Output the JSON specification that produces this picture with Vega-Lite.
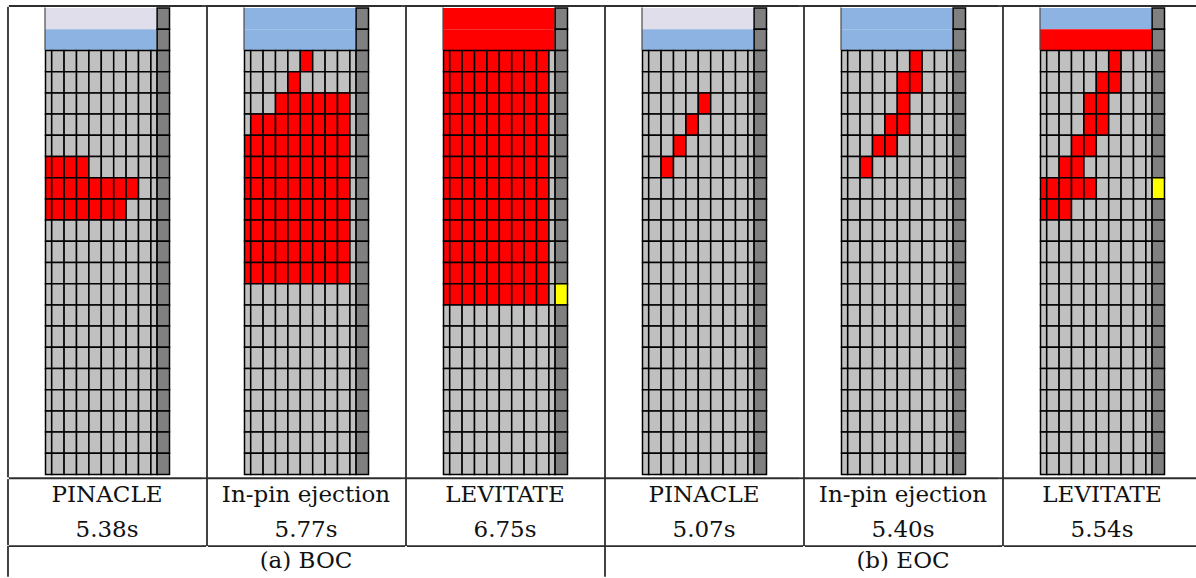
{
"$schema": "https://vega.github.io/schema/vega-lite/v6.json",
"background": "white",
"padding": {"left": 2, "top": 0, "right": 0, "bottom": 0},
"spacing": 0,
"bounds": "flush",
"config": {"view": {"stroke": null}},
"datasets": {
"bands": [
{"r":0,"p1":"L","p2":"B","p3":"F","p4":"L","p5":"B","p6":"B"},
{"r":1,"p1":"B","p2":"B","p3":"F","p4":"B","p5":"B","p6":"F"}
],
"labels": [
{"k":"method","p1":"PINACLE","p2":"In-pin ejection","p3":"LEVITATE","p4":"PINACLE","p5":"In-pin ejection","p6":"LEVITATE"},
{"k":"time","p1":"5.38s","p2":"5.77s","p3":"6.75s","p4":"5.07s","p5":"5.40s","p6":"5.54s"},
{"k":"group","p1":"","p2":"(a) BOC","p3":"","p4":"","p5":"(b) EOC","p6":""},
{"k":"stub","p1":"off","p2":"on","p3":"on","p4":"on","p5":"on","p6":"on"},
{"k":"gedge","p1":"on","p2":"off","p3":"off","p4":"on","p5":"off","p6":"off"}
],
"cells": [
{"r":0,"c":10,"p1":"W","p2":"W","p3":"W","p4":"W","p5":"W","p6":"W"},
{"r":1,"c":10,"p1":"W","p2":"W","p3":"W","p4":"W","p5":"W","p6":"W"},
{"r":2,"c":0,"p1":"E","p2":"E","p3":"F","p4":"E","p5":"E","p6":"E"},
{"r":2,"c":1,"p1":"E","p2":"E","p3":"F","p4":"E","p5":"E","p6":"E"},
{"r":2,"c":2,"p1":"E","p2":"E","p3":"F","p4":"E","p5":"E","p6":"E"},
{"r":2,"c":3,"p1":"E","p2":"E","p3":"F","p4":"E","p5":"E","p6":"E"},
{"r":2,"c":4,"p1":"E","p2":"E","p3":"F","p4":"E","p5":"E","p6":"E"},
{"r":2,"c":5,"p1":"E","p2":"F","p3":"F","p4":"E","p5":"E","p6":"E"},
{"r":2,"c":6,"p1":"E","p2":"E","p3":"F","p4":"E","p5":"F","p6":"F"},
{"r":2,"c":7,"p1":"E","p2":"E","p3":"F","p4":"E","p5":"E","p6":"E"},
{"r":2,"c":8,"p1":"E","p2":"E","p3":"F","p4":"E","p5":"E","p6":"E"},
{"r":2,"c":9,"p1":"E","p2":"E","p3":"E","p4":"E","p5":"E","p6":"E"},
{"r":2,"c":10,"p1":"W","p2":"W","p3":"W","p4":"W","p5":"W","p6":"W"},
{"r":3,"c":0,"p1":"E","p2":"E","p3":"F","p4":"E","p5":"E","p6":"E"},
{"r":3,"c":1,"p1":"E","p2":"E","p3":"F","p4":"E","p5":"E","p6":"E"},
{"r":3,"c":2,"p1":"E","p2":"E","p3":"F","p4":"E","p5":"E","p6":"E"},
{"r":3,"c":3,"p1":"E","p2":"E","p3":"F","p4":"E","p5":"E","p6":"E"},
{"r":3,"c":4,"p1":"E","p2":"F","p3":"F","p4":"E","p5":"E","p6":"E"},
{"r":3,"c":5,"p1":"E","p2":"E","p3":"F","p4":"E","p5":"F","p6":"F"},
{"r":3,"c":6,"p1":"E","p2":"E","p3":"F","p4":"E","p5":"F","p6":"F"},
{"r":3,"c":7,"p1":"E","p2":"E","p3":"F","p4":"E","p5":"E","p6":"E"},
{"r":3,"c":8,"p1":"E","p2":"E","p3":"F","p4":"E","p5":"E","p6":"E"},
{"r":3,"c":9,"p1":"E","p2":"E","p3":"E","p4":"E","p5":"E","p6":"E"},
{"r":3,"c":10,"p1":"W","p2":"W","p3":"W","p4":"W","p5":"W","p6":"W"},
{"r":4,"c":0,"p1":"E","p2":"E","p3":"F","p4":"E","p5":"E","p6":"E"},
{"r":4,"c":1,"p1":"E","p2":"E","p3":"F","p4":"E","p5":"E","p6":"E"},
{"r":4,"c":2,"p1":"E","p2":"E","p3":"F","p4":"E","p5":"E","p6":"E"},
{"r":4,"c":3,"p1":"E","p2":"F","p3":"F","p4":"E","p5":"E","p6":"E"},
{"r":4,"c":4,"p1":"E","p2":"F","p3":"F","p4":"E","p5":"E","p6":"F"},
{"r":4,"c":5,"p1":"E","p2":"F","p3":"F","p4":"F","p5":"F","p6":"F"},
{"r":4,"c":6,"p1":"E","p2":"F","p3":"F","p4":"E","p5":"E","p6":"E"},
{"r":4,"c":7,"p1":"E","p2":"F","p3":"F","p4":"E","p5":"E","p6":"E"},
{"r":4,"c":8,"p1":"E","p2":"F","p3":"F","p4":"E","p5":"E","p6":"E"},
{"r":4,"c":9,"p1":"E","p2":"E","p3":"E","p4":"E","p5":"E","p6":"E"},
{"r":4,"c":10,"p1":"W","p2":"W","p3":"W","p4":"W","p5":"W","p6":"W"},
{"r":5,"c":0,"p1":"E","p2":"E","p3":"F","p4":"E","p5":"E","p6":"E"},
{"r":5,"c":1,"p1":"E","p2":"F","p3":"F","p4":"E","p5":"E","p6":"E"},
{"r":5,"c":2,"p1":"E","p2":"F","p3":"F","p4":"E","p5":"E","p6":"E"},
{"r":5,"c":3,"p1":"E","p2":"F","p3":"F","p4":"E","p5":"E","p6":"E"},
{"r":5,"c":4,"p1":"E","p2":"F","p3":"F","p4":"F","p5":"F","p6":"F"},
{"r":5,"c":5,"p1":"E","p2":"F","p3":"F","p4":"E","p5":"F","p6":"F"},
{"r":5,"c":6,"p1":"E","p2":"F","p3":"F","p4":"E","p5":"E","p6":"E"},
{"r":5,"c":7,"p1":"E","p2":"F","p3":"F","p4":"E","p5":"E","p6":"E"},
{"r":5,"c":8,"p1":"E","p2":"F","p3":"F","p4":"E","p5":"E","p6":"E"},
{"r":5,"c":9,"p1":"E","p2":"E","p3":"E","p4":"E","p5":"E","p6":"E"},
{"r":5,"c":10,"p1":"W","p2":"W","p3":"W","p4":"W","p5":"W","p6":"W"},
{"r":6,"c":0,"p1":"E","p2":"F","p3":"F","p4":"E","p5":"E","p6":"E"},
{"r":6,"c":1,"p1":"E","p2":"F","p3":"F","p4":"E","p5":"E","p6":"E"},
{"r":6,"c":2,"p1":"E","p2":"F","p3":"F","p4":"E","p5":"E","p6":"E"},
{"r":6,"c":3,"p1":"E","p2":"F","p3":"F","p4":"F","p5":"F","p6":"F"},
{"r":6,"c":4,"p1":"E","p2":"F","p3":"F","p4":"E","p5":"F","p6":"F"},
{"r":6,"c":5,"p1":"E","p2":"F","p3":"F","p4":"E","p5":"E","p6":"E"},
{"r":6,"c":6,"p1":"E","p2":"F","p3":"F","p4":"E","p5":"E","p6":"E"},
{"r":6,"c":7,"p1":"E","p2":"F","p3":"F","p4":"E","p5":"E","p6":"E"},
{"r":6,"c":8,"p1":"E","p2":"F","p3":"F","p4":"E","p5":"E","p6":"E"},
{"r":6,"c":9,"p1":"E","p2":"E","p3":"E","p4":"E","p5":"E","p6":"E"},
{"r":6,"c":10,"p1":"W","p2":"W","p3":"W","p4":"W","p5":"W","p6":"W"},
{"r":7,"c":0,"p1":"F","p2":"F","p3":"F","p4":"E","p5":"E","p6":"E"},
{"r":7,"c":1,"p1":"F","p2":"F","p3":"F","p4":"E","p5":"E","p6":"E"},
{"r":7,"c":2,"p1":"F","p2":"F","p3":"F","p4":"F","p5":"F","p6":"F"},
{"r":7,"c":3,"p1":"F","p2":"F","p3":"F","p4":"E","p5":"E","p6":"F"},
{"r":7,"c":4,"p1":"E","p2":"F","p3":"F","p4":"E","p5":"E","p6":"E"},
{"r":7,"c":5,"p1":"E","p2":"F","p3":"F","p4":"E","p5":"E","p6":"E"},
{"r":7,"c":6,"p1":"E","p2":"F","p3":"F","p4":"E","p5":"E","p6":"E"},
{"r":7,"c":7,"p1":"E","p2":"F","p3":"F","p4":"E","p5":"E","p6":"E"},
{"r":7,"c":8,"p1":"E","p2":"F","p3":"F","p4":"E","p5":"E","p6":"E"},
{"r":7,"c":9,"p1":"E","p2":"E","p3":"E","p4":"E","p5":"E","p6":"E"},
{"r":7,"c":10,"p1":"W","p2":"W","p3":"W","p4":"W","p5":"W","p6":"W"},
{"r":8,"c":0,"p1":"F","p2":"F","p3":"F","p4":"E","p5":"E","p6":"F"},
{"r":8,"c":1,"p1":"F","p2":"F","p3":"F","p4":"E","p5":"E","p6":"F"},
{"r":8,"c":2,"p1":"F","p2":"F","p3":"F","p4":"E","p5":"E","p6":"F"},
{"r":8,"c":3,"p1":"F","p2":"F","p3":"F","p4":"E","p5":"E","p6":"F"},
{"r":8,"c":4,"p1":"F","p2":"F","p3":"F","p4":"E","p5":"E","p6":"F"},
{"r":8,"c":5,"p1":"F","p2":"F","p3":"F","p4":"E","p5":"E","p6":"E"},
{"r":8,"c":6,"p1":"F","p2":"F","p3":"F","p4":"E","p5":"E","p6":"E"},
{"r":8,"c":7,"p1":"F","p2":"F","p3":"F","p4":"E","p5":"E","p6":"E"},
{"r":8,"c":8,"p1":"E","p2":"F","p3":"F","p4":"E","p5":"E","p6":"E"},
{"r":8,"c":9,"p1":"E","p2":"E","p3":"E","p4":"E","p5":"E","p6":"E"},
{"r":8,"c":10,"p1":"W","p2":"W","p3":"W","p4":"W","p5":"W","p6":"P"},
{"r":9,"c":0,"p1":"F","p2":"F","p3":"F","p4":"E","p5":"E","p6":"F"},
{"r":9,"c":1,"p1":"F","p2":"F","p3":"F","p4":"E","p5":"E","p6":"F"},
{"r":9,"c":2,"p1":"F","p2":"F","p3":"F","p4":"E","p5":"E","p6":"F"},
{"r":9,"c":3,"p1":"F","p2":"F","p3":"F","p4":"E","p5":"E","p6":"E"},
{"r":9,"c":4,"p1":"F","p2":"F","p3":"F","p4":"E","p5":"E","p6":"E"},
{"r":9,"c":5,"p1":"F","p2":"F","p3":"F","p4":"E","p5":"E","p6":"E"},
{"r":9,"c":6,"p1":"F","p2":"F","p3":"F","p4":"E","p5":"E","p6":"E"},
{"r":9,"c":7,"p1":"E","p2":"F","p3":"F","p4":"E","p5":"E","p6":"E"},
{"r":9,"c":8,"p1":"E","p2":"F","p3":"F","p4":"E","p5":"E","p6":"E"},
{"r":9,"c":9,"p1":"E","p2":"E","p3":"E","p4":"E","p5":"E","p6":"E"},
{"r":9,"c":10,"p1":"W","p2":"W","p3":"W","p4":"W","p5":"W","p6":"W"},
{"r":10,"c":0,"p1":"E","p2":"F","p3":"F","p4":"E","p5":"E","p6":"E"},
{"r":10,"c":1,"p1":"E","p2":"F","p3":"F","p4":"E","p5":"E","p6":"E"},
{"r":10,"c":2,"p1":"E","p2":"F","p3":"F","p4":"E","p5":"E","p6":"E"},
{"r":10,"c":3,"p1":"E","p2":"F","p3":"F","p4":"E","p5":"E","p6":"E"},
{"r":10,"c":4,"p1":"E","p2":"F","p3":"F","p4":"E","p5":"E","p6":"E"},
{"r":10,"c":5,"p1":"E","p2":"F","p3":"F","p4":"E","p5":"E","p6":"E"},
{"r":10,"c":6,"p1":"E","p2":"F","p3":"F","p4":"E","p5":"E","p6":"E"},
{"r":10,"c":7,"p1":"E","p2":"F","p3":"F","p4":"E","p5":"E","p6":"E"},
{"r":10,"c":8,"p1":"E","p2":"F","p3":"F","p4":"E","p5":"E","p6":"E"},
{"r":10,"c":9,"p1":"E","p2":"E","p3":"E","p4":"E","p5":"E","p6":"E"},
{"r":10,"c":10,"p1":"W","p2":"W","p3":"W","p4":"W","p5":"W","p6":"W"},
{"r":11,"c":0,"p1":"E","p2":"F","p3":"F","p4":"E","p5":"E","p6":"E"},
{"r":11,"c":1,"p1":"E","p2":"F","p3":"F","p4":"E","p5":"E","p6":"E"},
{"r":11,"c":2,"p1":"E","p2":"F","p3":"F","p4":"E","p5":"E","p6":"E"},
{"r":11,"c":3,"p1":"E","p2":"F","p3":"F","p4":"E","p5":"E","p6":"E"},
{"r":11,"c":4,"p1":"E","p2":"F","p3":"F","p4":"E","p5":"E","p6":"E"},
{"r":11,"c":5,"p1":"E","p2":"F","p3":"F","p4":"E","p5":"E","p6":"E"},
{"r":11,"c":6,"p1":"E","p2":"F","p3":"F","p4":"E","p5":"E","p6":"E"},
{"r":11,"c":7,"p1":"E","p2":"F","p3":"F","p4":"E","p5":"E","p6":"E"},
{"r":11,"c":8,"p1":"E","p2":"F","p3":"F","p4":"E","p5":"E","p6":"E"},
{"r":11,"c":9,"p1":"E","p2":"E","p3":"E","p4":"E","p5":"E","p6":"E"},
{"r":11,"c":10,"p1":"W","p2":"W","p3":"W","p4":"W","p5":"W","p6":"W"},
{"r":12,"c":0,"p1":"E","p2":"F","p3":"F","p4":"E","p5":"E","p6":"E"},
{"r":12,"c":1,"p1":"E","p2":"F","p3":"F","p4":"E","p5":"E","p6":"E"},
{"r":12,"c":2,"p1":"E","p2":"F","p3":"F","p4":"E","p5":"E","p6":"E"},
{"r":12,"c":3,"p1":"E","p2":"F","p3":"F","p4":"E","p5":"E","p6":"E"},
{"r":12,"c":4,"p1":"E","p2":"F","p3":"F","p4":"E","p5":"E","p6":"E"},
{"r":12,"c":5,"p1":"E","p2":"F","p3":"F","p4":"E","p5":"E","p6":"E"},
{"r":12,"c":6,"p1":"E","p2":"F","p3":"F","p4":"E","p5":"E","p6":"E"},
{"r":12,"c":7,"p1":"E","p2":"F","p3":"F","p4":"E","p5":"E","p6":"E"},
{"r":12,"c":8,"p1":"E","p2":"F","p3":"F","p4":"E","p5":"E","p6":"E"},
{"r":12,"c":9,"p1":"E","p2":"E","p3":"E","p4":"E","p5":"E","p6":"E"},
{"r":12,"c":10,"p1":"W","p2":"W","p3":"W","p4":"W","p5":"W","p6":"W"},
{"r":13,"c":0,"p1":"E","p2":"E","p3":"F","p4":"E","p5":"E","p6":"E"},
{"r":13,"c":1,"p1":"E","p2":"E","p3":"F","p4":"E","p5":"E","p6":"E"},
{"r":13,"c":2,"p1":"E","p2":"E","p3":"F","p4":"E","p5":"E","p6":"E"},
{"r":13,"c":3,"p1":"E","p2":"E","p3":"F","p4":"E","p5":"E","p6":"E"},
{"r":13,"c":4,"p1":"E","p2":"E","p3":"F","p4":"E","p5":"E","p6":"E"},
{"r":13,"c":5,"p1":"E","p2":"E","p3":"F","p4":"E","p5":"E","p6":"E"},
{"r":13,"c":6,"p1":"E","p2":"E","p3":"F","p4":"E","p5":"E","p6":"E"},
{"r":13,"c":7,"p1":"E","p2":"E","p3":"F","p4":"E","p5":"E","p6":"E"},
{"r":13,"c":8,"p1":"E","p2":"E","p3":"F","p4":"E","p5":"E","p6":"E"},
{"r":13,"c":9,"p1":"E","p2":"E","p3":"E","p4":"E","p5":"E","p6":"E"},
{"r":13,"c":10,"p1":"W","p2":"W","p3":"P","p4":"W","p5":"W","p6":"W"},
{"r":14,"c":0,"p1":"E","p2":"E","p3":"E","p4":"E","p5":"E","p6":"E"},
{"r":14,"c":1,"p1":"E","p2":"E","p3":"E","p4":"E","p5":"E","p6":"E"},
{"r":14,"c":2,"p1":"E","p2":"E","p3":"E","p4":"E","p5":"E","p6":"E"},
{"r":14,"c":3,"p1":"E","p2":"E","p3":"E","p4":"E","p5":"E","p6":"E"},
{"r":14,"c":4,"p1":"E","p2":"E","p3":"E","p4":"E","p5":"E","p6":"E"},
{"r":14,"c":5,"p1":"E","p2":"E","p3":"E","p4":"E","p5":"E","p6":"E"},
{"r":14,"c":6,"p1":"E","p2":"E","p3":"E","p4":"E","p5":"E","p6":"E"},
{"r":14,"c":7,"p1":"E","p2":"E","p3":"E","p4":"E","p5":"E","p6":"E"},
{"r":14,"c":8,"p1":"E","p2":"E","p3":"E","p4":"E","p5":"E","p6":"E"},
{"r":14,"c":9,"p1":"E","p2":"E","p3":"E","p4":"E","p5":"E","p6":"E"},
{"r":14,"c":10,"p1":"W","p2":"W","p3":"W","p4":"W","p5":"W","p6":"W"},
{"r":15,"c":0,"p1":"E","p2":"E","p3":"E","p4":"E","p5":"E","p6":"E"},
{"r":15,"c":1,"p1":"E","p2":"E","p3":"E","p4":"E","p5":"E","p6":"E"},
{"r":15,"c":2,"p1":"E","p2":"E","p3":"E","p4":"E","p5":"E","p6":"E"},
{"r":15,"c":3,"p1":"E","p2":"E","p3":"E","p4":"E","p5":"E","p6":"E"},
{"r":15,"c":4,"p1":"E","p2":"E","p3":"E","p4":"E","p5":"E","p6":"E"},
{"r":15,"c":5,"p1":"E","p2":"E","p3":"E","p4":"E","p5":"E","p6":"E"},
{"r":15,"c":6,"p1":"E","p2":"E","p3":"E","p4":"E","p5":"E","p6":"E"},
{"r":15,"c":7,"p1":"E","p2":"E","p3":"E","p4":"E","p5":"E","p6":"E"},
{"r":15,"c":8,"p1":"E","p2":"E","p3":"E","p4":"E","p5":"E","p6":"E"},
{"r":15,"c":9,"p1":"E","p2":"E","p3":"E","p4":"E","p5":"E","p6":"E"},
{"r":15,"c":10,"p1":"W","p2":"W","p3":"W","p4":"W","p5":"W","p6":"W"},
{"r":16,"c":0,"p1":"E","p2":"E","p3":"E","p4":"E","p5":"E","p6":"E"},
{"r":16,"c":1,"p1":"E","p2":"E","p3":"E","p4":"E","p5":"E","p6":"E"},
{"r":16,"c":2,"p1":"E","p2":"E","p3":"E","p4":"E","p5":"E","p6":"E"},
{"r":16,"c":3,"p1":"E","p2":"E","p3":"E","p4":"E","p5":"E","p6":"E"},
{"r":16,"c":4,"p1":"E","p2":"E","p3":"E","p4":"E","p5":"E","p6":"E"},
{"r":16,"c":5,"p1":"E","p2":"E","p3":"E","p4":"E","p5":"E","p6":"E"},
{"r":16,"c":6,"p1":"E","p2":"E","p3":"E","p4":"E","p5":"E","p6":"E"},
{"r":16,"c":7,"p1":"E","p2":"E","p3":"E","p4":"E","p5":"E","p6":"E"},
{"r":16,"c":8,"p1":"E","p2":"E","p3":"E","p4":"E","p5":"E","p6":"E"},
{"r":16,"c":9,"p1":"E","p2":"E","p3":"E","p4":"E","p5":"E","p6":"E"},
{"r":16,"c":10,"p1":"W","p2":"W","p3":"W","p4":"W","p5":"W","p6":"W"},
{"r":17,"c":0,"p1":"E","p2":"E","p3":"E","p4":"E","p5":"E","p6":"E"},
{"r":17,"c":1,"p1":"E","p2":"E","p3":"E","p4":"E","p5":"E","p6":"E"},
{"r":17,"c":2,"p1":"E","p2":"E","p3":"E","p4":"E","p5":"E","p6":"E"},
{"r":17,"c":3,"p1":"E","p2":"E","p3":"E","p4":"E","p5":"E","p6":"E"},
{"r":17,"c":4,"p1":"E","p2":"E","p3":"E","p4":"E","p5":"E","p6":"E"},
{"r":17,"c":5,"p1":"E","p2":"E","p3":"E","p4":"E","p5":"E","p6":"E"},
{"r":17,"c":6,"p1":"E","p2":"E","p3":"E","p4":"E","p5":"E","p6":"E"},
{"r":17,"c":7,"p1":"E","p2":"E","p3":"E","p4":"E","p5":"E","p6":"E"},
{"r":17,"c":8,"p1":"E","p2":"E","p3":"E","p4":"E","p5":"E","p6":"E"},
{"r":17,"c":9,"p1":"E","p2":"E","p3":"E","p4":"E","p5":"E","p6":"E"},
{"r":17,"c":10,"p1":"W","p2":"W","p3":"W","p4":"W","p5":"W","p6":"W"},
{"r":18,"c":0,"p1":"E","p2":"E","p3":"E","p4":"E","p5":"E","p6":"E"},
{"r":18,"c":1,"p1":"E","p2":"E","p3":"E","p4":"E","p5":"E","p6":"E"},
{"r":18,"c":2,"p1":"E","p2":"E","p3":"E","p4":"E","p5":"E","p6":"E"},
{"r":18,"c":3,"p1":"E","p2":"E","p3":"E","p4":"E","p5":"E","p6":"E"},
{"r":18,"c":4,"p1":"E","p2":"E","p3":"E","p4":"E","p5":"E","p6":"E"},
{"r":18,"c":5,"p1":"E","p2":"E","p3":"E","p4":"E","p5":"E","p6":"E"},
{"r":18,"c":6,"p1":"E","p2":"E","p3":"E","p4":"E","p5":"E","p6":"E"},
{"r":18,"c":7,"p1":"E","p2":"E","p3":"E","p4":"E","p5":"E","p6":"E"},
{"r":18,"c":8,"p1":"E","p2":"E","p3":"E","p4":"E","p5":"E","p6":"E"},
{"r":18,"c":9,"p1":"E","p2":"E","p3":"E","p4":"E","p5":"E","p6":"E"},
{"r":18,"c":10,"p1":"W","p2":"W","p3":"W","p4":"W","p5":"W","p6":"W"},
{"r":19,"c":0,"p1":"E","p2":"E","p3":"E","p4":"E","p5":"E","p6":"E"},
{"r":19,"c":1,"p1":"E","p2":"E","p3":"E","p4":"E","p5":"E","p6":"E"},
{"r":19,"c":2,"p1":"E","p2":"E","p3":"E","p4":"E","p5":"E","p6":"E"},
{"r":19,"c":3,"p1":"E","p2":"E","p3":"E","p4":"E","p5":"E","p6":"E"},
{"r":19,"c":4,"p1":"E","p2":"E","p3":"E","p4":"E","p5":"E","p6":"E"},
{"r":19,"c":5,"p1":"E","p2":"E","p3":"E","p4":"E","p5":"E","p6":"E"},
{"r":19,"c":6,"p1":"E","p2":"E","p3":"E","p4":"E","p5":"E","p6":"E"},
{"r":19,"c":7,"p1":"E","p2":"E","p3":"E","p4":"E","p5":"E","p6":"E"},
{"r":19,"c":8,"p1":"E","p2":"E","p3":"E","p4":"E","p5":"E","p6":"E"},
{"r":19,"c":9,"p1":"E","p2":"E","p3":"E","p4":"E","p5":"E","p6":"E"},
{"r":19,"c":10,"p1":"W","p2":"W","p3":"W","p4":"W","p5":"W","p6":"W"},
{"r":20,"c":0,"p1":"E","p2":"E","p3":"E","p4":"E","p5":"E","p6":"E"},
{"r":20,"c":1,"p1":"E","p2":"E","p3":"E","p4":"E","p5":"E","p6":"E"},
{"r":20,"c":2,"p1":"E","p2":"E","p3":"E","p4":"E","p5":"E","p6":"E"},
{"r":20,"c":3,"p1":"E","p2":"E","p3":"E","p4":"E","p5":"E","p6":"E"},
{"r":20,"c":4,"p1":"E","p2":"E","p3":"E","p4":"E","p5":"E","p6":"E"},
{"r":20,"c":5,"p1":"E","p2":"E","p3":"E","p4":"E","p5":"E","p6":"E"},
{"r":20,"c":6,"p1":"E","p2":"E","p3":"E","p4":"E","p5":"E","p6":"E"},
{"r":20,"c":7,"p1":"E","p2":"E","p3":"E","p4":"E","p5":"E","p6":"E"},
{"r":20,"c":8,"p1":"E","p2":"E","p3":"E","p4":"E","p5":"E","p6":"E"},
{"r":20,"c":9,"p1":"E","p2":"E","p3":"E","p4":"E","p5":"E","p6":"E"},
{"r":20,"c":10,"p1":"W","p2":"W","p3":"W","p4":"W","p5":"W","p6":"W"},
{"r":21,"c":0,"p1":"E","p2":"E","p3":"E","p4":"E","p5":"E","p6":"E"},
{"r":21,"c":1,"p1":"E","p2":"E","p3":"E","p4":"E","p5":"E","p6":"E"},
{"r":21,"c":2,"p1":"E","p2":"E","p3":"E","p4":"E","p5":"E","p6":"E"},
{"r":21,"c":3,"p1":"E","p2":"E","p3":"E","p4":"E","p5":"E","p6":"E"},
{"r":21,"c":4,"p1":"E","p2":"E","p3":"E","p4":"E","p5":"E","p6":"E"},
{"r":21,"c":5,"p1":"E","p2":"E","p3":"E","p4":"E","p5":"E","p6":"E"},
{"r":21,"c":6,"p1":"E","p2":"E","p3":"E","p4":"E","p5":"E","p6":"E"},
{"r":21,"c":7,"p1":"E","p2":"E","p3":"E","p4":"E","p5":"E","p6":"E"},
{"r":21,"c":8,"p1":"E","p2":"E","p3":"E","p4":"E","p5":"E","p6":"E"},
{"r":21,"c":9,"p1":"E","p2":"E","p3":"E","p4":"E","p5":"E","p6":"E"},
{"r":21,"c":10,"p1":"W","p2":"W","p3":"W","p4":"W","p5":"W","p6":"W"}
]
},
"repeat": {"column": ["p1","p2","p3","p4","p5","p6"]},
"spec": {
"width": 199,
"height": 578,
"layer": [
{
"data": {"name": "bands"},
"mark": {"type": "rect", "strokeWidth": 0},
"encoding": {
"x": {"datum": 0, "type": "quantitative", "scale": {"domain": [-3.387, 0, 1, 9, 10, 11, 13.661], "range": [0, 42, 48.2, 147.4, 153.6, 166, 199], "zero": false, "nice": false}, "axis": null},
"x2": {"datum": 10},
"y": {"field": "r", "type": "quantitative", "bin": {"step": 1, "extent": [0, 22]}, "scale": {"domain": [-0.358, 26.905], "reverse": true, "zero": false, "nice": false}, "axis": null},
"fill": {"field": {"repeat": "column"}, "type": "nominal", "scale": {"domain": ["E","F","P","W","L","B"], "range": ["#c0c0c0","#ff0000","#ffff00","#808080","#e0deeb","#8db3e2"]}, "legend": null}
}
},
{
"data": {"name": "cells"},
"mark": {"type": "rect", "stroke": "#000000", "strokeWidth": 1.5},
"encoding": {
"x": {"field": "c", "type": "quantitative", "bin": {"step": 1, "extent": [0, 11]}, "axis": null},
"y": {"field": "r", "type": "quantitative", "bin": {"step": 1, "extent": [0, 22]}, "axis": null},
"fill": {"field": {"repeat": "column"}, "type": "nominal", "legend": null}
}
},
{
"data": {"name": "labels"},
"transform": [{"filter": "datum.k === 'method'"}],
"mark": {"type": "rule", "color": "#4a4a4a", "strokeWidth": 1.2},
"encoding": {"x": {"datum": 0, "type": "quantitative"}, "y": {"datum": 0, "type": "quantitative"}, "y2": {"datum": 2}}
},
{
"data": {"name": "labels"},
"transform": [{"filter": "datum.k === 'method'"}],
"mark": {"type": "rule", "color": "#2e2e2e", "strokeWidth": 1.8, "strokeCap": "square"},
"encoding": {"x": {"datum": -2.984, "type": "quantitative"}, "x2": {"datum": 13.588}, "y": {"datum": -0.075, "type": "quantitative"}}
},
{
"data": {"name": "labels"},
"transform": [{"filter": "datum.k === 'method'"}],
"mark": {"type": "rule", "color": "#2e2e2e", "strokeWidth": 1.8, "strokeCap": "square"},
"encoding": {"x": {"datum": -2.984, "type": "quantitative"}, "x2": {"datum": 13.588}, "y": {"datum": 22.2, "type": "quantitative"}}
},
{
"data": {"name": "labels"},
"transform": [{"filter": "datum.k === 'method'"}],
"mark": {"type": "rule", "color": "#2e2e2e", "strokeWidth": 1.8, "strokeCap": "square"},
"encoding": {"x": {"datum": -2.984, "type": "quantitative"}, "x2": {"datum": 13.588}, "y": {"datum": 25.4, "type": "quantitative"}}
},
{
"data": {"name": "labels"},
"transform": [{"filter": "datum.k === 'method'"}],
"mark": {"type": "rule", "color": "#2e2e2e", "strokeWidth": 1.8},
"encoding": {"x": {"datum": -2.984, "type": "quantitative"}, "y": {"datum": -0.075, "type": "quantitative"}, "y2": {"datum": 25.4}}
},
{
"data": {"name": "labels"},
"transform": [{"filter": "datum.k === 'stub'"}],
"mark": {"type": "rule", "strokeWidth": 1.8, "strokeCap": "square"},
"encoding": {"x": {"datum": -3.314, "type": "quantitative"}, "x2": {"datum": -2.984}, "y": {"datum": -0.075, "type": "quantitative"},
"stroke": {"field": {"repeat": "column"}, "type": "nominal", "scale": {"domain": ["off","on"], "range": ["#ffffff","#2e2e2e"]}, "legend": null}}
},
{
"data": {"name": "labels"},
"transform": [{"filter": "datum.k === 'stub'"}],
"mark": {"type": "rule", "strokeWidth": 1.8, "strokeCap": "square"},
"encoding": {"x": {"datum": -3.314, "type": "quantitative"}, "x2": {"datum": -2.984}, "y": {"datum": 22.2, "type": "quantitative"},
"stroke": {"field": {"repeat": "column"}, "type": "nominal", "legend": null}}
},
{
"data": {"name": "labels"},
"transform": [{"filter": "datum.k === 'stub'"}],
"mark": {"type": "rule", "strokeWidth": 1.8, "strokeCap": "square"},
"encoding": {"x": {"datum": -3.314, "type": "quantitative"}, "x2": {"datum": -2.984}, "y": {"datum": 25.4, "type": "quantitative"},
"stroke": {"field": {"repeat": "column"}, "type": "nominal", "legend": null}}
},
{
"data": {"name": "labels"},
"transform": [{"filter": "datum.k === 'gedge'"}],
"mark": {"type": "rule", "strokeWidth": 1.8},
"encoding": {"x": {"datum": -2.984, "type": "quantitative"}, "y": {"datum": 25.4, "type": "quantitative"}, "y2": {"datum": 26.85},
"stroke": {"field": {"repeat": "column"}, "type": "nominal", "legend": null}}
},
{
"data": {"name": "labels"},
"transform": [{"filter": "datum.k === 'method'"}],
"mark": {"type": "text", "font": "DejaVu Serif", "fontSize": 23, "align": "center", "baseline": "alphabetic", "color": "#111111"},
"encoding": {"x": {"datum": 5.5, "type": "quantitative"}, "y": {"datum": 23.3, "type": "quantitative"}, "text": {"field": {"repeat": "column"}, "type": "nominal"}}
},
{
"data": {"name": "labels"},
"transform": [{"filter": "datum.k === 'time'"}],
"mark": {"type": "text", "font": "DejaVu Serif", "fontSize": 23, "align": "center", "baseline": "alphabetic", "color": "#111111"},
"encoding": {"x": {"datum": 5.5, "type": "quantitative"}, "y": {"datum": 24.95, "type": "quantitative"}, "text": {"field": {"repeat": "column"}, "type": "nominal"}}
},
{
"data": {"name": "labels"},
"transform": [{"filter": "datum.k === 'group'"}],
"mark": {"type": "text", "font": "DejaVu Serif", "fontSize": 23, "align": "center", "baseline": "alphabetic", "color": "#111111"},
"encoding": {"x": {"datum": 5.5, "type": "quantitative"}, "y": {"datum": 26.45, "type": "quantitative"}, "text": {"field": {"repeat": "column"}, "type": "nominal"}}
}
]
}
}
